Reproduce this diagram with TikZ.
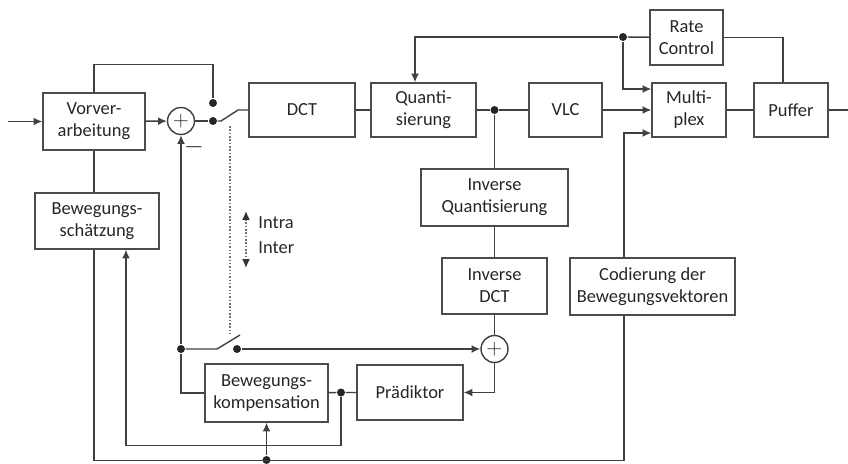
\documentclass[tikz,border=0pt]{standalone}
\usepackage{fontspec}
\setmainfont{Carlito}
\usetikzlibrary{arrows.meta}

\tikzset{
  blk/.style={draw=black!70, rectangle, align=center, inner sep=1pt, text=black!85, font=\fontsize{10.5}{12.5}\selectfont},
  sumc/.style={draw=black!75, circle, minimum size=0.54cm, inner sep=0pt, text=black!85, font=\large},
  jdot/.style={circle, fill=black!85, inner sep=0pt, minimum size=0.16cm},
  arr/.style={-{Latex[length=5pt,width=4.5pt]}},
  lbl/.style={text=black!85, font=\fontsize{10.5}{12.5}\selectfont, inner sep=1pt},
  swlink/.style={densely dotted, black!55, line width=0.9pt}
}

\begin{document}
\begin{tikzpicture}[x=0.02cm, y=-0.02cm, color=black!75, line width=0.8pt]
\useasboundingbox (0,0) rectangle (848,463);

\node[blk, minimum width=2.04cm, minimum height=1.14cm] (vorv) at (94,121.5) {Vorver-\\arbeitung};
\node[blk, minimum width=2.12cm, minimum height=1.08cm] (dct) at (302,110) {DCT};
\node[blk, minimum width=2.10cm, minimum height=1.08cm] (quant) at (423.5,110) {Quanti-\\sierung};
\node[blk, minimum width=1.46cm, minimum height=1.08cm] (vlc) at (565.5,110) {VLC};
\node[blk, minimum width=1.48cm, minimum height=1.08cm] (mux) at (689,110) {Multi-\\plex};
\node[blk, minimum width=1.48cm, minimum height=1.08cm] (puf) at (791,110) {Puffer};
\node[blk, minimum width=1.46cm, minimum height=1.10cm] (rate) at (686.5,37.5) {Rate\\Control};
\node[blk, minimum width=2.48cm, minimum height=1.12cm] (bsch) at (97,221) {Bewegungs-\\schätzung};
\node[blk, minimum width=2.94cm, minimum height=1.14cm] (invq) at (494.5,197.5) {Inverse\\Quantisierung};
\node[blk, minimum width=2.10cm, minimum height=1.12cm] (invdct) at (494.5,286) {Inverse\\DCT};
\node[blk, minimum width=3.30cm, minimum height=1.14cm] (cod) at (652.5,286.5) {Codierung der\\Bewegungsvektoren};
\node[blk, minimum width=2.46cm, minimum height=1.16cm] (bkomp) at (266.5,393) {Bewegungs-\\kompensation};
\node[blk, minimum width=2.12cm, minimum height=1.10cm] (praed) at (410,392.5) {Prädiktor};

\node[sumc] (sum1) at (181,121) {$+$};
\node[sumc] (sum2) at (494.5,349) {$+$};
\node[lbl, font=\Large] (minus) at (194,147) {$-$};

\node[jdot] (dhi) at (213,103) {};
\node[jdot] (dlo) at (213,121) {};
\node[jdot] (dq) at (494.5,110) {};
\node[jdot] (drc) at (623,37) {};
\node[jdot] (dl) at (181,349) {};
\node[jdot] (dsw) at (237,349) {};
\node[jdot] (dk) at (341,392.5) {};
\node[jdot] (dbot) at (266.5,460) {};

\coordinate (in) at (8,121.5);
\coordinate (out) at (858,110);
\coordinate (sw1) at (238,110);
\coordinate (sw2) at (240,335);
\coordinate (swt) at (230,126);
\coordinate (swb) at (230,333);
\coordinate (ia) at (246,211);
\coordinate (ib) at (246,268);

\draw[arr] (in) -- (vorv);
\draw[arr] (vorv) -- (sum1);
\draw (sum1) -- (dlo);
\draw (vorv.north) -- ++(0,-28) -| (dhi);
\draw (dlo) -- ++(8,0) -- (sw1) -- (dct);
\draw (dct) -- (quant);
\draw (quant) -- (dq) -- (vlc);
\draw[arr] (vlc) -- (mux);
\draw (mux) -- (puf);
\draw[arr] (puf) -- (out);
\draw ([xshift=-0.16cm]puf.north) |- (rate);
\draw (rate) -- (drc);
\draw[arr] (drc) -| ([xshift=-0.17cm]quant.north);
\draw[arr] (drc) |- ([yshift=0.42cm]mux.west);
\draw[arr] ([xshift=-0.57cm]cod.north) |- ([yshift=-0.46cm]mux.west);
\draw (dq) -- (invq);
\draw (invq) -- (invdct);
\draw (invdct) -- (sum2);
\draw[arr] (sum2) |- (praed);
\draw[arr] (dsw) -- (sum2);
\draw (dl) -- ++(36,0) -- (sw2);
\draw[arr] (dl) -- (sum1);
\draw (dl) |- (bkomp);
\draw (praed) -- (dk) -- (bkomp);
\draw[arr] (dk) -- ++(0,53) -| ([xshift=0.58cm]bsch.south);
\draw (vorv.south) -- (vorv.south |- bsch.north);
\draw (vorv.south |- bsch.south) -- ++(0,211) -| ([xshift=-0.57cm]cod.south);
\draw[arr] (dbot) -- (bkomp);

\draw[swlink] (swt) -- (swb);
\draw[swlink, {Latex[length=5pt,width=4.5pt,color=black!80]}-{Latex[length=5pt,width=4.5pt,color=black!80]}] (ia) -- (ib);
\node[lbl, anchor=west] (intra) at (256,223) {Intra};
\node[lbl, anchor=west] (inter) at (256,248) {Inter};
\end{tikzpicture}
\end{document}
